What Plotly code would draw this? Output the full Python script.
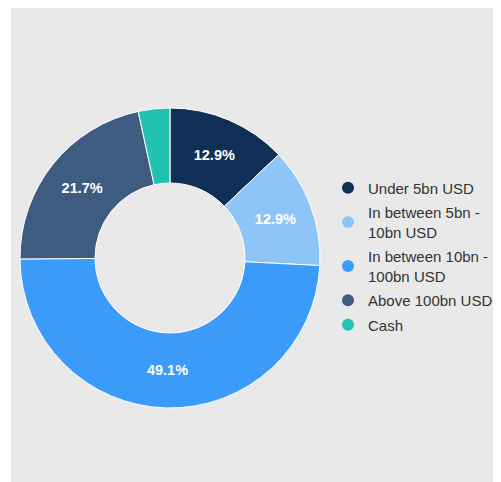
import plotly.graph_objects as go

labels = ["Under 5bn USD", "In between 5bn -<br>10bn USD", "In between 10bn -<br>100bn USD",
          "Above 100bn USD", "Cash"]
values = [12.9, 12.9, 49.1, 21.7, 3.4]
colors = ["#0f2f56", "#8ec5f8", "#3b9bfa", "#3e5c80", "#1fc3b0"]
text_labels = ["12.9%", "12.9%", "49.1%", "21.7%", ""]

# page has an 8px body margin; figure coordinates = page coordinates - 8
W, H = 493, 474
fig = go.Figure()

fig.add_trace(go.Pie(
    labels=labels, values=values, sort=False, direction="clockwise", rotation=0,
    hole=0.5, text=text_labels, textinfo="text", textposition="inside",
    insidetextorientation="horizontal",
    textfont=dict(color="white", size=14.5, family="Liberation Sans, Arial", weight="bold"),
    marker=dict(colors=colors, line=dict(color="white", width=1)),
    showlegend=False, hoverinfo="label+percent",
    domain=dict(x=[12 / W, 312 / W], y=[(H - 400) / H, (H - 100) / H]),
))

for i, (lab, col) in enumerate(zip(labels, colors)):
    fig.add_trace(go.Scatter(
        x=[None], y=[None], mode="markers", name=lab, legendgroup=f"g{i}",
        marker=dict(color=col, size=14, symbol="circle"),
        showlegend=True,
    ))

fig.update_layout(
    width=W, height=H,
    margin=dict(l=0, r=0, t=0, b=0),
    paper_bgcolor="white", plot_bgcolor="rgba(0,0,0,0)",
    xaxis=dict(visible=False), yaxis=dict(visible=False),
    font=dict(family="Liberation Sans, Arial", size=15, color="#333333"),
    legend=dict(x=320 / W, y=(H - 248.5) / H, xanchor="left", yanchor="middle",
                bgcolor="rgba(0,0,0,0)", itemsizing="constant",
                font=dict(size=15, color="#333333"), tracegroupgap=2),
    shapes=[dict(type="rect", xref="paper", yref="paper", x0=3 / W, x1=492 / W,
                 y0=0, y1=1, fillcolor="#e9e9e9", line=dict(width=0),
                 layer="below")],
)

fig.write_html("out.html")
